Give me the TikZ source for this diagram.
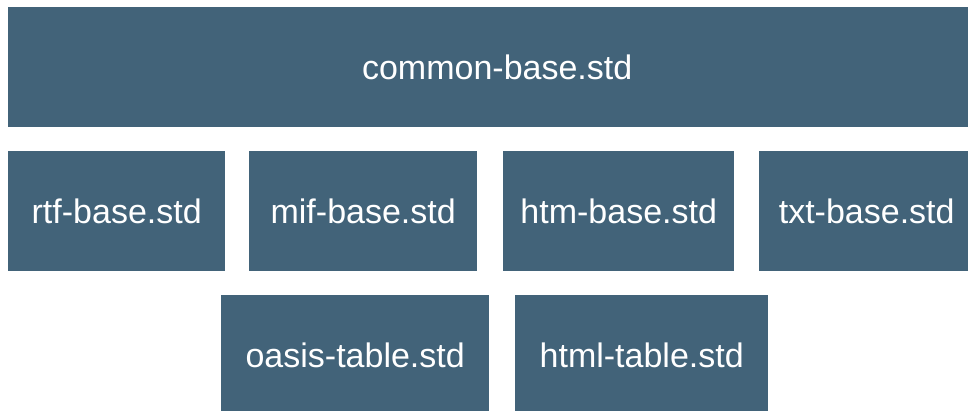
\documentclass[tikz,border=0pt]{standalone}
\usepackage{fontspec}
\setmainfont{Liberation Sans}
\definecolor{boxblue}{RGB}{66,99,121}
\begin{document}
\begin{tikzpicture}[x=1pt,y=-1pt,
  blk/.style={fill=boxblue,draw=none,anchor=north west,inner sep=0pt,
    text=white,font=\fontsize{34}{40}\selectfont,minimum height=#1},
  blk/.default=120]
\useasboundingbox (0,0) rectangle (968,411);
\clip (0,0) rectangle (968,411);
\node[blk=120.5,minimum width=978] (common) at (8,6.5) {common-base.std};
\node[blk,minimum width=217] (rtf) at (8,151) {rtf-base.std};
\node[blk,minimum width=228] (mif) at (249,151) {mif-base.std};
\node[blk,minimum width=231] (htm) at (503,151) {htm-base.std};
\node[blk,minimum width=215] (txt) at (759,151) {txt-base.std};
\node[blk,minimum width=268] (oasis) at (221,295) {oasis-table.std};
\node[blk,minimum width=253] (html) at (515,295) {html-table.std};
\end{tikzpicture}
\end{document}
